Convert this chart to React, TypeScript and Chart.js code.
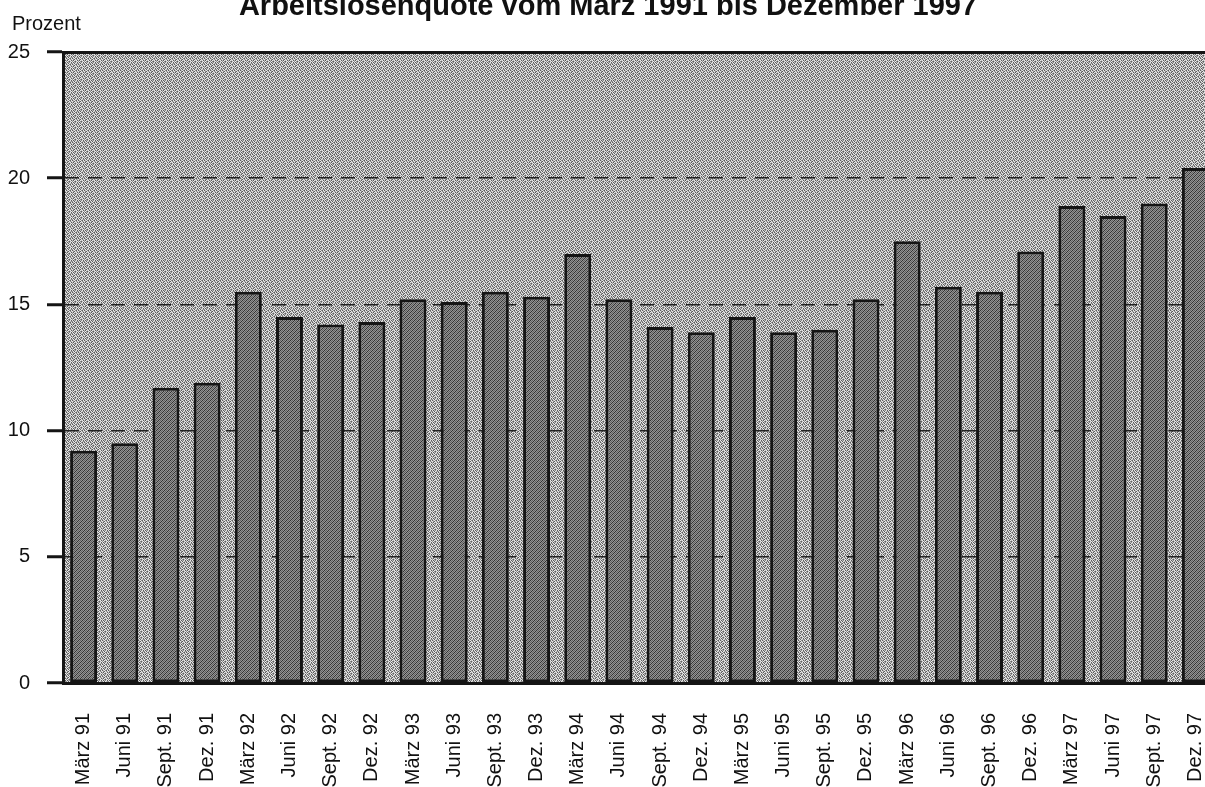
import React, { useEffect, useRef } from "react";
import { Chart, registerables } from "chart.js";

Chart.register(...registerables);

const chartTitle = "Arbeitslosenquote vom März 1991 bis Dezember 1997";
const yUnit = "Prozent";
const categories = [
  "März 91", "Juni 91", "Sept. 91", "Dez. 91",
  "März 92", "Juni 92", "Sept. 92", "Dez. 92",
  "März 93", "Juni 93", "Sept. 93", "Dez. 93",
  "März 94", "Juni 94", "Sept. 94", "Dez. 94",
  "März 95", "Juni 95", "Sept. 95", "Dez. 95",
  "März 96", "Juni 96", "Sept. 96", "Dez. 96",
  "März 97", "Juni 97", "Sept. 97", "Dez. 97",
];
const quote = [
  9.2, 9.5, 11.7, 11.9,
  15.5, 14.5, 14.2, 14.3,
  15.2, 15.1, 15.5, 15.3,
  17.0, 15.2, 14.1, 13.9,
  14.5, 13.9, 14.0, 15.2,
  17.5, 15.7, 15.5, 17.1,
  18.9, 18.5, 19.0, 20.4,
];
const yTicks = [0, 5, 10, 15, 20, 25];

const FONT = "'Liberation Sans', Arial, Helvetica, sans-serif";
const CANVAS_W = 1220;
const CANVAS_H = 800;
const CANVAS_TOP = -10;

function makePattern(grid: string[][]): CanvasPattern | string {
  const c = document.createElement("canvas");
  c.width = grid[0].length;
  c.height = grid.length;
  const g = c.getContext("2d");
  if (!g) return "#999";
  for (let y = 0; y < grid.length; y++) {
    for (let x = 0; x < grid[y].length; x++) {
      g.fillStyle = grid[y][x];
      g.fillRect(x, y, 1, 1);
    }
  }
  const p = g.createPattern(c, "repeat");
  return p || "#999";
}

export default function App() {
  const ref = useRef<HTMLCanvasElement | null>(null);

  useEffect(() => {
    const canvas = ref.current;
    if (!canvas) return;
    const W = "#e8e8e8", L = "#bcbcbc", M = "#8e8e8e", D = "#5c5c5c";
    const bgPattern = makePattern([
      [W, D, L, M, W, D],
      [M, W, D, W, L, M],
      [D, L, W, M, D, W],
      [W, M, D, W, M, L],
      [L, D, W, L, W, D],
      [M, W, M, D, L, W],
    ]);
    const a = "#333333", b = "#939393", c2 = "#626262";
    const barPattern = makePattern([
      [a, b, c2, b],
      [b, c2, b, a],
      [c2, b, a, b],
      [b, a, b, c2],
    ]);

    const plotBg = {
      id: "plotBg",
      beforeDraw(chart: any) {
        const { ctx, chartArea } = chart;
        ctx.save();
        ctx.fillStyle = bgPattern;
        ctx.fillRect(chartArea.left, chartArea.top, chartArea.right - chartArea.left, chartArea.bottom - chartArea.top);
        ctx.restore();
      },
    };

    const noSidePadding = (scale: any) => {
      scale.paddingLeft = 0;
      scale.paddingRight = 0;
    };

    const chart = new Chart(canvas, {
      type: "bar",
      data: {
        labels: categories,
        datasets: [
          {
            label: chartTitle,
            data: quote,
            backgroundColor: barPattern as any,
            borderColor: "#151515",
            borderWidth: 3,
            borderSkipped: false,
            barPercentage: 0.655,
            categoryPercentage: 1,
            xAxisID: "x",
            yAxisID: "y",
          },
        ],
      },
      options: {
        responsive: false,
        maintainAspectRatio: false,
        animation: false,
        devicePixelRatio: 1,
        layout: { padding: { left: 0, right: 4, top: 0, bottom: 0 } },
        plugins: {
          legend: { display: false },
          tooltip: { enabled: false },
          title: {
            display: true,
            text: chartTitle,
            color: "#111",
            font: { family: FONT, size: 29, weight: "bold" },
            padding: { top: 0, bottom: 27.2 },
          },
        },
        scales: {
          x: {
            type: "category",
            position: "bottom",
            grid: { display: false, drawTicks: false },
            border: { display: true, color: "#151515", width: 3 },
            ticks: {
              autoSkip: false,
              maxRotation: 90,
              minRotation: 90,
              padding: 30,
              color: "#111",
              font: { family: FONT, size: 20 },
            },
            afterFit(scale: any) {
              scale.height = CANVAS_H - 693;
              noSidePadding(scale);
            },
          },
          x2: {
            type: "category",
            position: "top",
            grid: { display: false, drawTicks: false },
            border: { display: true, color: "#151515", width: 3 },
            ticks: { display: false },
            afterFit(scale: any) {
              noSidePadding(scale);
            },
          },
          y: {
            type: "linear",
            min: 0,
            max: 25,
            afterBuildTicks(scale: any) {
              scale.ticks = yTicks.map((v) => ({ value: v }));
            },
            afterFit(scale: any) {
              scale.width = 63;
            },
            grid: {
              color: (ctx: any) =>
                ctx.tick && (ctx.tick.value === 0 || ctx.tick.value === 25) ? "rgba(0,0,0,0)" : "#222",
              lineWidth: 1.5,
              drawTicks: true,
              tickLength: 16,
              tickColor: "#151515",
              tickWidth: 3,
              tickBorderDash: [],
            },
            border: { display: true, color: "#151515", width: 3, dash: [14, 9] },
            ticks: {
              padding: 17,
              color: "#111",
              font: { family: FONT, size: 20 },
            },
          },
        },
      },
      plugins: [plotBg],
    });

    return () => chart.destroy();
  }, []);

  return (
    <div
      style={{
        position: "absolute",
        left: 0,
        top: 0,
        width: 1205,
        height: 787,
        overflow: "hidden",
        background: "#fff",
      }}
    >
      <canvas
        ref={ref}
        width={CANVAS_W}
        height={CANVAS_H}
        style={{ position: "absolute", left: 0, top: CANVAS_TOP, width: CANVAS_W, height: CANVAS_H }}
      />
      <div
        style={{
          position: "absolute",
          left: 12,
          top: 13,
          fontFamily: FONT,
          fontSize: 20,
          lineHeight: "20px",
          color: "#111",
          whiteSpace: "nowrap",
        }}
      >
        {yUnit}
      </div>
    </div>
  );
}
